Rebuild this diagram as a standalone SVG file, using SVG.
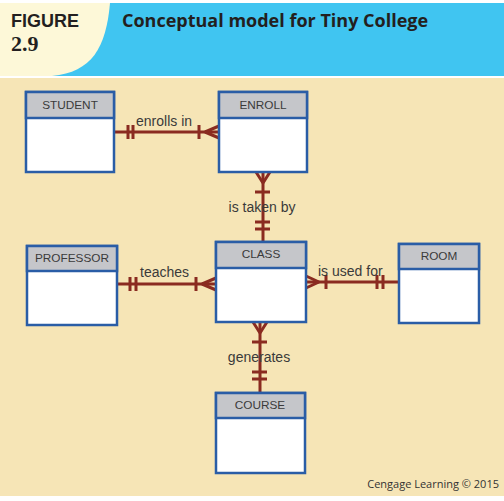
<svg xmlns="http://www.w3.org/2000/svg" width="504" height="501" viewBox="0 0 504 501">
<style>
.ent rect.body{fill:#ffffff;stroke:#2a5da6;stroke-width:2.5}
.ent rect.head{fill:#c5c6ca;stroke:#2a5da6;stroke-width:2.5}
.ent text{font-family:"Liberation Sans",Arial,sans-serif;font-size:11.8px;fill:#3a3a3a;text-anchor:middle}
.con path{fill:none;stroke:#8a2b20;stroke-width:3}
.lbl{font-family:"Liberation Sans",Arial,sans-serif;font-size:14px;fill:#3a3a3a}
</style>
<rect x="0" y="0" width="504" height="501" fill="#ffffff"/>
<rect x="0" y="78" width="504" height="418" fill="#f6e5b6"/>
<rect x="0" y="3" width="504" height="73" fill="#40c5f1"/>
<path d="M0,3 H110 C106,48 92,72 52,76 H0 Z" fill="#fdf8d8"/>
<text x="11" y="27" font-family="'Liberation Sans',Arial,sans-serif" font-weight="bold" font-size="18" fill="#231f20">FIGURE</text>
<text x="11" y="51" font-family="'Liberation Serif',serif" font-weight="bold" font-size="22" fill="#231f20">2.9</text>
<text x="122" y="27" font-family="'Open Sans','Liberation Sans',sans-serif" font-weight="bold" font-size="18" fill="#231f20">Conceptual model for Tiny College</text>
<text x="499" y="488" text-anchor="end" font-family="'Open Sans','Liberation Sans',sans-serif" font-size="11" fill="#333">Cengage Learning © 2015</text>

<g id="connectors" class="con">
  <!-- STUDENT - ENROLL -->
  <path d="M114,132 H219"/>
  <path d="M128,125 V139 M133,125 V139 M199,125 V139 M205,132 L219,126 M205,132 L219,138"/>
  <!-- ENROLL - CLASS -->
  <path d="M263,172 V242"/>
  <path d="M263,183 L256,172 M263,183 L270,172 M255,192 H270 M255,222 H270 M255,229 H270"/>
  <!-- PROFESSOR - CLASS -->
  <path d="M117,284 H216"/>
  <path d="M130,277 V291 M136,277 V291 M196,277 V291 M202,284 L216,278 M202,284 L216,290"/>
  <!-- CLASS - ROOM -->
  <path d="M306,282 H399"/>
  <path d="M319,282 L306,276 M319,282 L306,288 M326,275 V289 M377,275 V289 M383,275 V289"/>
  <!-- CLASS - COURSE -->
  <path d="M260,322 V393"/>
  <path d="M260,333 L253,322 M260,333 L267,322 M252,342 H267 M252,372 H267 M252,379 H267"/>
</g>

<g id="labels">
  <text class="lbl" x="136" y="126">enrolls in</text>
  <text class="lbl" x="262" y="212" text-anchor="middle">is taken by</text>
  <text class="lbl" x="140" y="277">teaches</text>
  <text class="lbl" x="318" y="276">is used for</text>
  <text class="lbl" x="259" y="362" text-anchor="middle">generates</text>
</g>

<g id="STUDENT" class="ent">
  <rect class="body" x="26" y="92" width="88" height="80"/>
  <rect class="head" x="26" y="92" width="88" height="26"/>
  <text x="70" y="109">STUDENT</text>
</g>
<g id="ENROLL" class="ent">
  <rect class="body" x="219" y="92" width="88" height="80"/>
  <rect class="head" x="219" y="92" width="88" height="26"/>
  <text x="263" y="109">ENROLL</text>
</g>
<g id="PROFESSOR" class="ent">
  <rect class="body" x="27" y="246" width="90" height="79"/>
  <rect class="head" x="27" y="246" width="90" height="25"/>
  <text x="72" y="262">PROFESSOR</text>
</g>
<g id="CLASS" class="ent">
  <rect class="body" x="216" y="242" width="90" height="80"/>
  <rect class="head" x="216" y="242" width="90" height="26"/>
  <text x="261" y="258">CLASS</text>
</g>
<g id="ROOM" class="ent">
  <rect class="body" x="399" y="244" width="80" height="79"/>
  <rect class="head" x="399" y="244" width="80" height="25"/>
  <text x="439" y="260">ROOM</text>
</g>
<g id="COURSE" class="ent">
  <rect class="body" x="216" y="393" width="89" height="80"/>
  <rect class="head" x="216" y="393" width="89" height="25"/>
  <text x="260" y="409">COURSE</text>
</g>
</svg>
